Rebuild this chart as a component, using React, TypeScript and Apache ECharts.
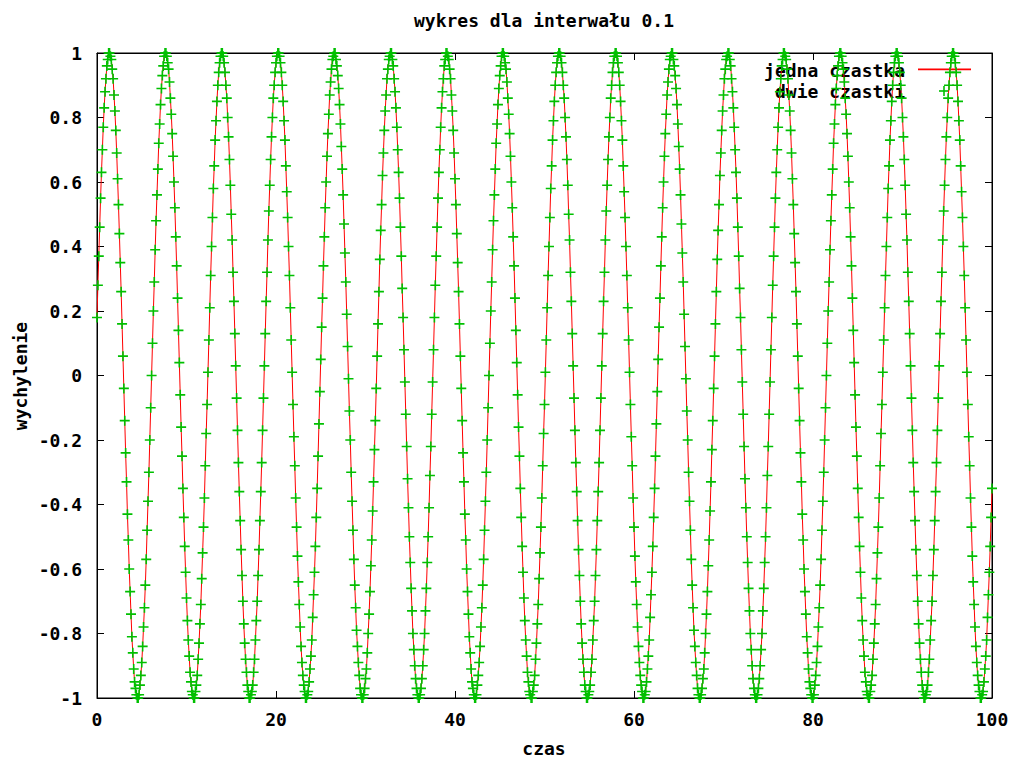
import React, { useEffect, useRef } from "react";
import * as echarts from "echarts";

const tytul = "wykres dla interwału 0.1";
const nazwaOsiX = "czas";
const nazwaOsiY = "wychylenie";
const nazwySerii = ["jedna czastka", "dwie czastki"];
const interwal = 0.1;
const zakresX = [0, 100];
const krokX = 20;
const zakresY = [-1, 1];
const krokY = 0.2;

// wychylenie, co 0.1 jednostki czasu (t = 0 ... 100)
const wychylenie = [
  .18,.28,.37,.46,.55,.63,.70,.77,.83,.88,.92,.96,.98,1,1,.99,.98,.95,.92,.87,.82,.76,.69,.61,.53,.44,.35,.26,.16,.06,-.04,-.14,-.24,-.33,-.43,-.51,-.60,-.67,-.74,-.81,-.86,-.91,-.95,-.97,-.99,-1,-1,-.99,-.96,-.93,-.89,-.84,-.78,-.72,-.65,-.57,-.48,-.39,-.30,-.20,-.10,0,
  .10,.20,.29,.39,.48,.56,.64,.72,.78,.84,.89,.93,.96,.99,1,1,.99,.97,.95,.91,.86,.81,.75,.68,.60,.52,.43,.34,.24,.14,.04,-.06,-.16,-.25,-.35,-.44,-.53,-.61,-.69,-.76,-.82,-.87,-.92,-.95,-.98,-.99,-1,-1,-.98,-.96,-.93,-.88,-.83,-.77,-.71,-.63,-.55,-.47,-.38,-.28,-.18,-.09,
  .01,.11,.21,.31,.40,.49,.58,.65,.73,.79,.85,.90,.94,.97,.99,1,1,.99,.97,.94,.90,.86,.80,.74,.67,.59,.50,.42,.32,.23,.13,.03,-.07,-.17,-.27,-.36,-.45,-.54,-.62,-.70,-.77,-.83,-.88,-.92,-.96,-.98,-1,-1,-.99,-.98,-.96,-.92,-.88,-.82,-.76,-.70,-.62,-.54,-.45,-.36,-.27,-.17,-.07,
  .03,.13,.23,.32,.42,.51,.59,.67,.74,.80,.86,.90,.94,.97,.99,1,1,.99,.97,.94,.90,.85,.79,.73,.65,.57,.49,.40,.31,.21,.11,.01,-.09,-.19,-.28,-.38,-.47,-.56,-.64,-.71,-.78,-.84,-.89,-.93,-.96,-.98,-1,-1,-.99,-.98,-.95,-.91,-.87,-.82,-.75,-.68,-.61,-.53,-.44,-.35,-.25,-.15,-.05,
  .05,.15,.24,.34,.43,.52,.60,.68,.75,.81,.87,.91,.95,.98,.99,1,1,.98,.96,.93,.89,.84,.78,.71,.64,.56,.47,.38,.29,.19,.09,-.01,-.11,-.20,-.30,-.39,-.48,-.57,-.65,-.72,-.79,-.84,-.89,-.93,-.97,-.99,-1,-1,-.99,-.97,-.94,-.91,-.86,-.80,-.74,-.67,-.59,-.51,-.42,-.33,-.23,-.14,-.04,
  .06,.16,.26,.36,.45,.53,.62,.69,.76,.82,.87,.92,.95,.98,.99,1,1,.98,.96,.92,.88,.83,.77,.70,.63,.55,.46,.37,.27,.18,.08,-.02,-.12,-.22,-.32,-.41,-.50,-.58,-.66,-.73,-.80,-.85,-.90,-.94,-.97,-.99,-1,-1,-.99,-.97,-.94,-.90,-.85,-.80,-.73,-.66,-.58,-.50,-.41,-.31,-.22,-.12,-.02,
  .08,.18,.28,.37,.46,.55,.63,.70,.77,.83,.88,.92,.96,.98,1,1,.99,.98,.95,.92,.87,.82,.76,.69,.61,.53,.44,.35,.26,.16,.06,-.04,-.14,-.24,-.33,-.43,-.51,-.60,-.67,-.74,-.81,-.86,-.91,-.95,-.97,-.99,-1,-1,-.99,-.96,-.93,-.89,-.84,-.78,-.72,-.65,-.57,-.48,-.39,-.30,-.20,-.10,0,
  .10,.20,.29,.39,.48,.56,.64,.72,.78,.84,.89,.93,.96,.99,1,1,.99,.97,.95,.91,.86,.81,.75,.68,.60,.52,.43,.34,.24,.14,.04,-.06,-.16,-.25,-.35,-.44,-.53,-.61,-.69,-.76,-.82,-.87,-.92,-.95,-.98,-.99,-1,-1,-.98,-.96,-.93,-.88,-.83,-.77,-.71,-.63,-.55,-.47,-.38,-.28,-.18,-.09,
  .01,.11,.21,.31,.40,.49,.58,.65,.73,.79,.85,.90,.94,.97,.99,1,1,.99,.97,.94,.90,.86,.80,.74,.67,.59,.50,.42,.32,.23,.13,.03,-.07,-.17,-.27,-.36,-.45,-.54,-.62,-.70,-.77,-.83,-.88,-.92,-.96,-.98,-1,-1,-.99,-.98,-.96,-.92,-.88,-.82,-.76,-.70,-.62,-.54,-.45,-.36,-.27,-.17,-.07,
  .03,.13,.23,.32,.42,.51,.59,.67,.74,.80,.86,.90,.94,.97,.99,1,1,.99,.97,.94,.90,.85,.79,.73,.65,.57,.49,.40,.31,.21,.11,.01,-.09,-.19,-.28,-.38,-.47,-.56,-.64,-.71,-.78,-.84,-.89,-.93,-.96,-.98,-1,-1,-.99,-.98,-.95,-.91,-.87,-.82,-.75,-.68,-.61,-.53,-.44,-.35,-.25,-.15,-.05,
  .05,.15,.24,.34,.43,.52,.60,.68,.75,.81,.87,.91,.95,.98,.99,1,1,.98,.96,.93,.89,.84,.78,.71,.64,.56,.47,.38,.29,.19,.09,-.01,-.11,-.20,-.30,-.39,-.48,-.57,-.65,-.72,-.79,-.84,-.89,-.93,-.97,-.99,-1,-1,-.99,-.97,-.94,-.91,-.86,-.80,-.74,-.67,-.59,-.51,-.42,-.33,-.23,-.14,-.04,
  .06,.16,.26,.36,.45,.53,.62,.69,.76,.82,.87,.92,.95,.98,.99,1,1,.98,.96,.92,.88,.83,.77,.70,.63,.55,.46,.37,.27,.18,.08,-.02,-.12,-.22,-.32,-.41,-.50,-.58,-.66,-.73,-.80,-.85,-.90,-.94,-.97,-.99,-1,-1,-.99,-.97,-.94,-.90,-.85,-.80,-.73,-.66,-.58,-.50,-.41,-.31,-.22,-.12,-.02,
  .08,.18,.28,.37,.46,.55,.63,.70,.77,.83,.88,.92,.96,.98,1,1,.99,.98,.95,.92,.87,.82,.76,.69,.61,.53,.44,.35,.26,.16,.06,-.04,-.14,-.24,-.33,-.43,-.51,-.60,-.67,-.74,-.81,-.86,-.91,-.95,-.97,-.99,-1,-1,-.99,-.96,-.93,-.89,-.84,-.78,-.72,-.65,-.57,-.48,-.39,-.30,-.20,-.10,0,
  .10,.20,.29,.39,.48,.56,.64,.72,.78,.84,.89,.93,.96,.99,1,1,.99,.97,.95,.91,.86,.81,.75,.68,.60,.52,.43,.34,.24,.14,.04,-.06,-.16,-.25,-.35,-.44,-.53,-.61,-.69,-.76,-.82,-.87,-.92,-.95,-.98,-.99,-1,-1,-.98,-.96,-.93,-.88,-.83,-.77,-.71,-.63,-.55,-.47,-.38,-.28,-.18,-.09,
  .01,.11,.21,.31,.40,.49,.58,.65,.73,.79,.85,.90,.94,.97,.99,1,1,.99,.97,.94,.90,.86,.80,.74,.67,.59,.50,.42,.32,.23,.13,.03,-.07,-.17,-.27,-.36,-.45,-.54,-.62,-.70,-.77,-.83,-.88,-.92,-.96,-.98,-1,-1,-.99,-.98,-.96,-.92,-.88,-.82,-.76,-.70,-.62,-.54,-.45,-.36,-.27,-.17,-.07,
  .03,.13,.23,.32,.42,.51,.59,.67,.74,.80,.86,.90,.94,.97,.99,1,1,.99,.97,.94,.90,.85,.79,.73,.65,.57,.49,.40,.31,.21,.11,.01,-.09,-.19,-.28,-.38,-.47,-.56,-.64,-.71,-.78,-.84,-.89,-.93,-.96,-.98,-1,-1,-.99,-.98,-.95,-.91,-.87,-.82,-.75,-.68,-.61,-.53,-.44,-.35,
];

// czas: kolejne próbki co interwał
const czas = wychylenie.map((_, i) => Math.round(i * interwal * 10) / 10);

const CZCIONKA = "DejaVu Sans Mono";
const ROZMIAR = 18;
const CZERWONY = "#ff0000";
const ZIELONY = "#00c000";
const PLUS = "path://M4.2,0H5.8V4.2H10V5.8H5.8V10H4.2V5.8H0V4.2H4.2Z";

export default function App() {
  const ref = useRef<HTMLDivElement>(null);

  useEffect(() => {
    if (!ref.current) return;
    const chart = echarts.init(ref.current, null, { renderer: "svg" });
    const punkty = wychylenie.map((y, i) => [czas[i], y]);

    const txt = {
      fontFamily: CZCIONKA,
      fontWeight: "bold" as const,
      fontSize: ROZMIAR,
      color: "#000",
    };
    const tickStyle = { show: true, inside: true, length: 7, lineStyle: { color: "#000", width: 1 } };
    const lineStyle = { show: true, onZero: false, lineStyle: { color: "#000", width: 1 } };

    const gTxt = (text: string, x: number, y: number, align: string, extra: any = {}) => ({
      type: "text",
      x,
      y,
      z: 0,
      ...extra,
      style: {
        text,
        fill: "#000",
        font: `bold ${ROZMIAR}px "${CZCIONKA}"`,
        textAlign: align,
        align,
        textVerticalAlign: "middle",
        verticalAlign: "middle",
      },
    });

    chart.setOption({
      animation: false,
      backgroundColor: "#fff",
      grid: { left: 97, right: 24, top: 53, bottom: 59, show: true, borderColor: "#000", borderWidth: 1, backgroundColor: "transparent" },
      xAxis: [
        {
          type: "value",
          min: zakresX[0],
          max: zakresX[1],
          interval: krokX,
          position: "bottom",
          axisLine: lineStyle,
          axisTick: tickStyle,
          splitLine: { show: false },
          axisLabel: { ...txt, margin: 12 },
        },
        {
          type: "value",
          min: zakresX[0],
          max: zakresX[1],
          interval: krokX,
          position: "top",
          axisLine: lineStyle,
          axisTick: tickStyle,
          splitLine: { show: false },
          axisLabel: { show: false },
        },
      ],
      yAxis: [
        {
          type: "value",
          min: zakresY[0],
          max: zakresY[1],
          interval: krokY,
          position: "left",
          axisLine: lineStyle,
          axisTick: tickStyle,
          splitLine: { show: false },
          axisLabel: { ...txt, margin: 15, formatter: (v: number) => String(Math.round(v * 10) / 10) },
        },
        {
          type: "value",
          min: zakresY[0],
          max: zakresY[1],
          interval: krokY,
          position: "right",
          axisLine: lineStyle,
          axisTick: tickStyle,
          splitLine: { show: false },
          axisLabel: { show: false },
        },
      ],
      graphic: [
        gTxt(tytul, 544, 20, "center"),
        gTxt(nazwaOsiX, 544, 748, "center"),
        gTxt(nazwaOsiY, 20, 376, "center", { rotation: Math.PI / 2 }),
        gTxt(nazwySerii[0], 905, 70, "right"),
        gTxt(nazwySerii[1], 905, 91, "right"),
        { type: "rect", z: 1, shape: { x: 918, y: 68.5, width: 53, height: 1.8 }, style: { fill: CZERWONY } },
        { type: "rect", z: 1, shape: { x: 939, y: 90.2, width: 10, height: 1.6 }, style: { fill: ZIELONY } },
        { type: "rect", z: 1, shape: { x: 943.2, y: 86, width: 1.6, height: 10 }, style: { fill: ZIELONY } },
      ],
      series: [
        {
          name: nazwySerii[0],
          type: "line",
          data: punkty,
          showSymbol: false,
          symbol: "none",
          lineStyle: { color: CZERWONY, width: 1 },
          itemStyle: { color: CZERWONY },
          z: 2,
        },
        {
          name: nazwySerii[1],
          type: "scatter",
          data: punkty,
          symbol: PLUS,
          symbolSize: 10,
          itemStyle: { color: ZIELONY, opacity: 1 },
          z: 3,
          clip: false,
        },
      ],
    });

    return () => chart.dispose();
  }, []);

  return (
    <div
      ref={ref}
      style={{ position: "absolute", left: 0, top: 0, width: 1016, height: 757, background: "#fff" }}
    />
  );
}
